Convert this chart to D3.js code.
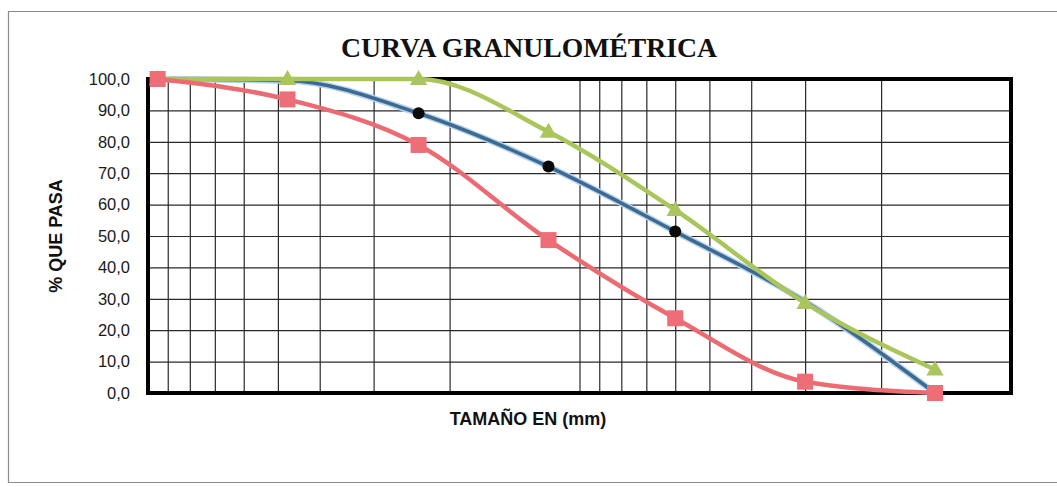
<!DOCTYPE html>
<html>
<head>
<meta charset="utf-8">
<script src="https://cdn.jsdelivr.net/npm/d3@7"></script>
<style>
  html, body { margin: 0; padding: 0; background: #ffffff; }
  svg { display: block; }
</style>
</head>
<body>
<svg id="chart" width="1057" height="487"></svg>
<script>
// ---- data ----
const tamices = [9.5, 4.75, 2.36, 1.18, 0.6, 0.3, 0.15];          // mm
const limiteSuperior = [100, 100, 100, 83.2, 58.3, 28.7, 7.5];
const muestra = [100, 99.5, 89.1, 72.1, 51.4, 29.1, 0];
const limiteInferior = [100, 93.5, 79, 48.7, 23.8, 3.6, 0];
const marcadorMuestra = [false, false, true, true, true, false, false];
const yTicks = [0, 10, 20, 30, 40, 50, 60, 70, 80, 90, 100];
const xDominio = [10, 0.1];
const titulo = "CURVA GRANULOMÉTRICA";
const tituloX = "TAMAÑO EN (mm)";
const tituloY = "% QUE PASA";

// ---- layout ----
const svg = d3.select("#chart");
const L = 148, R = 1011, T = 79, B = 393;

const x = d3.scaleLog().domain(xDominio).range([L, R]);
const y = d3.scaleLinear().domain([0, 100]).range([B, T]);
const fmt = d3.formatLocale({decimal: ",", thousands: ".", grouping: [3], currency: ["$", ""]}).format(".1f");

// outer frame
svg.append("path")
  .attr("d", "M1057,11.5 H8.5 V482.5 H1057")
  .attr("fill", "none").attr("stroke", "#8c8c8c").attr("stroke-width", 1.2);

// title
svg.append("text")
  .attr("x", 529).attr("y", 57)
  .attr("text-anchor", "middle")
  .attr("textLength", 376).attr("lengthAdjust", "spacingAndGlyphs")
  .style("font-family", "'Liberation Serif', 'Times New Roman', serif")
  .style("font-weight", "bold").style("font-size", "28px")
  .attr("fill", "#111")
  .text(titulo);

// gridlines
const gx = svg.append("g").attr("transform", `translate(0,${B})`)
  .call(d3.axisBottom(x).tickValues(x.ticks()).tickSize(-(B - T)).tickFormat(""));
gx.select(".domain").remove();
gx.selectAll("line").attr("stroke", "#2a2a2a").attr("stroke-width", 1.2);

const gy = svg.append("g").attr("transform", `translate(${L},0)`)
  .call(d3.axisLeft(y).tickValues(yTicks).tickSize(-(R - L)).tickFormat(""));
gy.select(".domain").remove();
gy.selectAll("line").attr("stroke", "#2a2a2a").attr("stroke-width", 1.2);

// y tick labels
const yl = svg.append("g").attr("transform", `translate(${L},0)`)
  .call(d3.axisLeft(y).tickValues(yTicks).tickSize(0).tickPadding(18).tickFormat(fmt));
yl.select(".domain").remove();
yl.selectAll("text")
  .style("font-family", "'Liberation Sans', Arial, sans-serif")
  .style("font-size", "16.5px").attr("fill", "#1a1a1a");

// plot border
svg.append("rect")
  .attr("x", L).attr("y", T).attr("width", R - L).attr("height", B - T)
  .attr("fill", "none").attr("stroke", "#000").attr("stroke-width", 4);

// axis titles
svg.append("text")
  .attr("x", 528).attr("y", 425)
  .attr("text-anchor", "middle")
  .style("font-family", "'Liberation Sans', Arial, sans-serif")
  .style("font-weight", "bold").style("font-size", "18px")
  .attr("fill", "#111")
  .text(tituloX);

svg.append("text")
  .attr("transform", "translate(62,236) rotate(-90)")
  .attr("text-anchor", "middle")
  .style("font-family", "'Liberation Sans', Arial, sans-serif")
  .style("font-weight", "bold").style("font-size", "18px")
  .attr("fill", "#111")
  .text(tituloY);

// series
const line = vals => d3.line()
  .x((d, i) => x(tamices[i]))
  .y(d => y(d))
  .curve(d3.curveMonotoneX)(vals);

const gS = svg.append("g");
// sample (blue) with light halo
gS.append("path").attr("d", line(muestra)).attr("fill", "none")
  .attr("stroke", "#b9d3ea").attr("stroke-width", 6.5);
gS.append("path").attr("d", line(muestra)).attr("fill", "none")
  .attr("stroke", "#3c6a93").attr("stroke-width", 3.6);
// upper limit (green)
gS.append("path").attr("d", line(limiteSuperior)).attr("fill", "none")
  .attr("stroke", "#aac65b").attr("stroke-width", 4.5);
// lower limit (red)
gS.append("path").attr("d", line(limiteInferior)).attr("fill", "none")
  .attr("stroke", "#ec6b72").attr("stroke-width", 4.5);

// markers
const puntosMuestra = muestra.map((v, i) => ({t: tamices[i], v, show: marcadorMuestra[i]}))
  .filter(p => p.show);
gS.selectAll("circle.m").data(puntosMuestra).enter().append("circle")
  .attr("cx", p => x(p.t))
  .attr("cy", p => y(p.v)).attr("r", 6).attr("fill", "#0a0a0a");

const tri = d3.symbol().type(d3.symbolTriangle).size(130);
gS.selectAll("path.t").data(limiteSuperior).enter().append("path")
  .attr("d", tri)
  .attr("transform", (d, i) => `translate(${x(tamices[i])},${y(d) + 1})`)
  .attr("fill", "#a9c55c");

gS.selectAll("rect.s").data(limiteInferior).enter().append("rect")
  .attr("x", (d, i) => x(tamices[i]) - 8)
  .attr("y", d => y(d) - 8)
  .attr("width", 16).attr("height", 16)
  .attr("fill", "#ee6e78");
</script>
</body>
</html>
